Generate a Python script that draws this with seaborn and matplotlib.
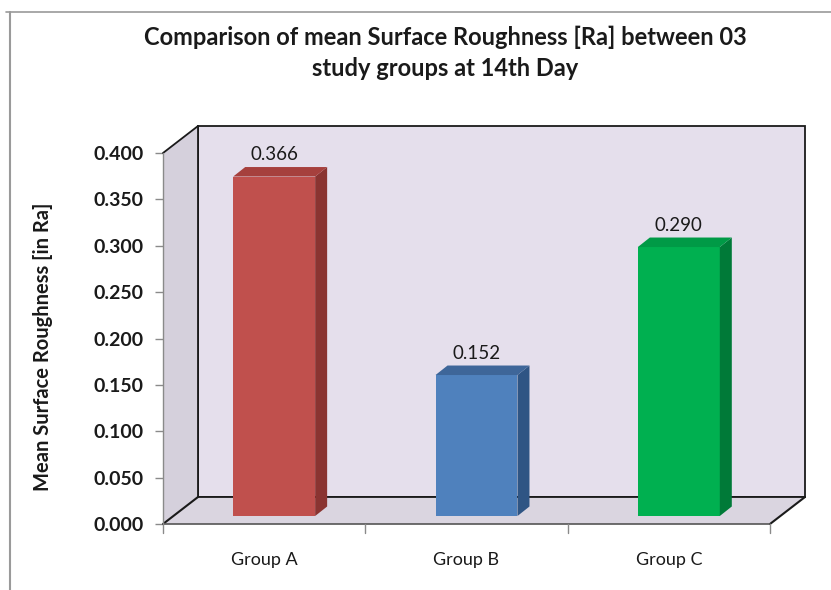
import matplotlib
matplotlib.use("Agg")
import matplotlib.pyplot as plt
from matplotlib.patches import Polygon
from matplotlib.lines import Line2D
import seaborn as sns
import pandas as pd

# ---- data ----
groups = ["Group A", "Group B", "Group C"]
roughness = [0.366, 0.152, 0.290]
value_labels = ["0.366", "0.152", "0.290"]
y_ticks = [0.000, 0.050, 0.100, 0.150, 0.200, 0.250, 0.300, 0.350, 0.400]

front_colors = ["#C0504D", "#4F81BD", "#00B050"]
top_colors = ["#A6403D", "#3E6699", "#009A46"]
side_colors = ["#8A3431", "#2F5584", "#007A38"]

title = "Comparison of mean Surface Roughness [Ra] between 03\nstudy groups at 14th Day"
ylabel = "Mean Surface Roughness [in Ra]"

sns.set_theme(style="white")
plt.rcParams["font.family"] = ["Lato", "DejaVu Sans"]

W, H, DPI = 831, 590, 100
fig = plt.figure(figsize=(W / DPI, H / DPI), dpi=DPI)

# front plane of the 3-D box (pixels)
x_left, x_right = 163, 770
y_bottom, y_top = 524, 153
ax = fig.add_axes([x_left / W, 1 - y_bottom / H,
                   (x_right - x_left) / W, (y_bottom - y_top) / H])
ymax = 0.4

# bars (front faces) via seaborn
df = pd.DataFrame({"group": groups, "ra": roughness})
sns.barplot(data=df, x="group", y="ra", hue="group", palette=front_colors,
            width=0.405, legend=False, ax=ax, saturation=1, zorder=2)
bars = [p for c in ax.containers for p in c]

ax.set_xlim(-0.5, 2.5)
ax.set_ylim(0, ymax)

# pixel -> data scale
sx = (x_right - x_left) / 3.0
sy = (y_bottom - y_top) / ymax

def px(dx, dy):
    return dx / sx, dy / sy

# depth of the box, offset of the bar fronts and bar thickness
Dx, Dy = px(35, 27)
ox, oy = px(10, 8)
bx, by = px(12, 9.5)

wall_back = "#E5DFEC"
wall_side = "#D5D0DC"
floor_col = "#DAD5E0"
edge = "#1a1a1a"

# back wall
ax.add_patch(Polygon([(-0.5 + Dx, Dy), (2.5 + Dx, Dy), (2.5 + Dx, ymax + Dy), (-0.5 + Dx, ymax + Dy)],
                     closed=True, facecolor=wall_back, edgecolor=edge, lw=1.3, clip_on=False, zorder=0.5))
# left wall
ax.add_patch(Polygon([(-0.5, 0), (-0.5 + Dx, Dy), (-0.5 + Dx, ymax + Dy), (-0.5, ymax)],
                     closed=True, facecolor=wall_side, edgecolor="none", clip_on=False, zorder=0.6))
ax.add_line(Line2D([-0.5, -0.5 + Dx], [ymax, ymax + Dy], color=edge, lw=1.3, clip_on=False, zorder=0.7))
ax.add_line(Line2D([-0.5 + Dx, -0.5 + Dx], [Dy, ymax + Dy], color=edge, lw=1.3, clip_on=False, zorder=0.7))
# floor
ax.add_patch(Polygon([(-0.5, 0), (2.5, 0), (2.5 + Dx, Dy), (-0.5 + Dx, Dy)],
                     closed=True, facecolor=floor_col, edgecolor="none", clip_on=False, zorder=0.6))
ax.add_line(Line2D([-0.5, -0.5 + Dx], [0, Dy], color=edge, lw=1.5, clip_on=False, zorder=0.7))
ax.add_line(Line2D([2.5, 2.5 + Dx], [0, Dy], color=edge, lw=1.5, clip_on=False, zorder=0.7))
ax.add_line(Line2D([-0.5 + Dx, 2.5 + Dx], [Dy, Dy], color=edge, lw=1.3, clip_on=False, zorder=0.7))
ax.add_line(Line2D([-0.5, 2.5], [0, 0], color="#555555", lw=1.2, clip_on=False, zorder=0.7))

for i, bar in enumerate(bars):
    bar.set_x(bar.get_x() + ox)
    bar.set_y(oy)
    bar.set_edgecolor("none")
    bar.set_zorder(2)
    x0 = bar.get_x()
    x1 = x0 + bar.get_width()
    y0 = bar.get_y()
    y1 = y0 + bar.get_height()
    ax.add_patch(Polygon([(x1, y0), (x1 + bx, y0 + by), (x1 + bx, y1 + by), (x1, y1)],
                         closed=True, facecolor=side_colors[i], edgecolor="none", zorder=2, clip_on=False))
    ax.add_patch(Polygon([(x0, y1), (x0 + bx, y1 + by), (x1 + bx, y1 + by), (x1, y1)],
                         closed=True, facecolor=top_colors[i], edgecolor="none", zorder=2, clip_on=False))
    ax.text((x0 + x1) / 2, y1 + by + 4 / sy, value_labels[i], ha="center", va="bottom",
            fontsize=13.5, color="#1a1a1a", zorder=3)

# axes styling
for s in ax.spines.values():
    s.set_visible(False)
ax.set_facecolor("none")
ax.add_line(Line2D([-0.5, -0.5], [0, ymax], color="#8a8a8a", lw=1.0, clip_on=False, zorder=0.8))
ax.set_yticks(y_ticks)
ax.set_yticklabels([f"{t:.3f}" for t in y_ticks], fontsize=14, fontweight="bold", color="#1a1a1a")
ax.set_xticks([0, 1, 2])
ax.set_xticklabels(groups, fontsize=13, color="#1a1a1a")
ax.tick_params(axis="y", length=6, width=1, color="#8a8a8a", pad=8, left=True)
ax.tick_params(axis="x", length=0, pad=20)
for xb in [-0.5, 0.5, 1.5, 2.5]:
    ax.add_line(Line2D([xb, xb], [0, -9 / sy], color="#8a8a8a", lw=1.0, clip_on=False, zorder=0.8))
ax.set_xlabel("")
ax.set_ylabel("")
ax.grid(False)

# y-axis title
fig.text(43 / W, 1 - 347 / H, ylabel, rotation=90, ha="center", va="center",
         fontsize=14.5, fontweight="bold", color="#1a1a1a")

# title
fig.text(445 / W, 1 - 37 / H, title.split("\n")[0], ha="center", va="center",
         fontsize=17, fontweight="bold", color="#1a1a1a")
fig.text(445 / W, 1 - 68 / H, title.split("\n")[1], ha="center", va="center",
         fontsize=17, fontweight="bold", color="#1a1a1a")

# chart area frame
fig.add_artist(Line2D([10 / W, 10 / W], [0, 1 - 12 / H], transform=fig.transFigure, color="#9a9a9a", lw=1.5))
fig.add_artist(Line2D([6 / W, 1], [1 - 12 / H, 1 - 12 / H], transform=fig.transFigure, color="#9a9a9a", lw=1.2))

fig.savefig("out.png", dpi=DPI)
